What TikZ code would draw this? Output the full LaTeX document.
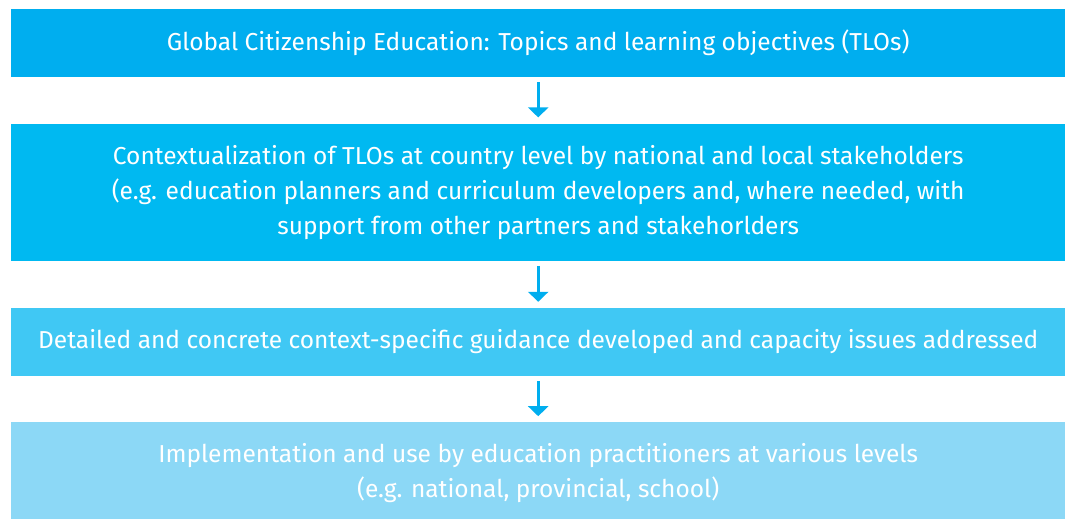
\documentclass[tikz,border=0pt]{standalone}
\usepackage{fontspec}
\setmainfont{Fira Sans}
\usetikzlibrary{positioning,arrows.meta}
\definecolor{gceA}{HTML}{00AEEF}
\definecolor{gceB}{HTML}{00B9F1}
\definecolor{gceC}{HTML}{40C8F4}
\definecolor{gceD}{HTML}{8CD8F6}

\begin{document}
\begin{tikzpicture}[x=1pt, y=1pt, node distance=46pt, box/.style={rectangle, fill=#1, text=white, minimum width=1054pt, inner sep=0pt, align=center, font=\fontsize{24.5}{35}\selectfont}, flow/.style={-{Triangle[width=20pt,length=10pt]}, line width=3pt, gceA, shorten <=5pt, shorten >=6pt}]

  \useasboundingbox (0,0) rectangle (1065,-519);

  \node[box=gceA, minimum height=68pt, anchor=north west] (tlo) at (11,-9) {Global Citizenship Education: Topics and learning objectives (TLOs)};
  \node[box=gceB, minimum height=137pt, below=46pt of tlo] (context) {Contextualization of TLOs at country level by national and local stakeholders\\(e.g. education planners and curriculum developers and, where needed, with\\support from other partners and stakehorlders};
  \node[box=gceC, minimum height=68pt, below=47pt of context] (guidance) {Detailed and concrete context-specific guidance developed and capacity issues addressed};
  \node[box=gceD, minimum height=102pt, below=46pt of guidance] (practice) {Implementation and use by education practitioners at various levels\\(e.g. national, provincial, school)};

  \draw[flow] (tlo) -- (context);
  \draw[flow] (context) -- (guidance);
  \draw[flow] (guidance) -- (practice);
\end{tikzpicture}
\end{document}
